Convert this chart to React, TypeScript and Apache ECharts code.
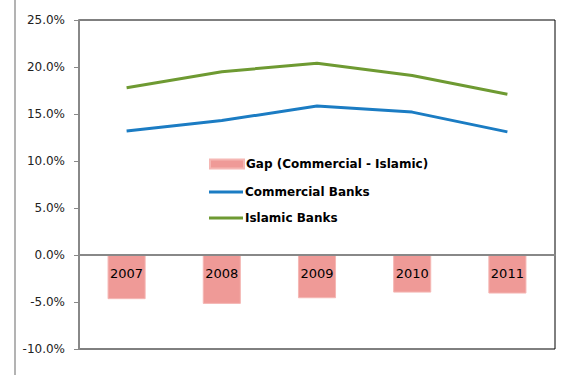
import React, { useEffect, useRef } from "react";
import * as echarts from "echarts";

const categories = ["2007", "2008", "2009", "2010", "2011"];
const gapValues = [-4.7, -5.2, -4.6, -4.0, -4.1];
const commercialValues = [13.2, 14.3, 15.85, 15.2, 13.1];
const islamicValues = [17.8, 19.5, 20.4, 19.1, 17.1];

const GAP = "Gap (Commercial - Islamic)";
const COM = "Commercial Banks";
const ISL = "Islamic Banks";

export default function App() {
  const ref = useRef<HTMLDivElement>(null);
  useEffect(() => {
    const chart = echarts.init(ref.current!, null, { renderer: "svg" });
    const legendText = {
      fontFamily: "DejaVu Sans",
      fontWeight: "bold",
      fontSize: 12,
      color: "#000",
      padding: [0, 0, 0, -3],
    };
    chart.setOption({
      animation: false,
      backgroundColor: "#fff",
      textStyle: { fontFamily: "DejaVu Sans" },
      grid: {
        left: 79,
        right: 8,
        top: 20,
        bottom: 26,
        show: true,
        borderColor: "#000",
        borderWidth: 1,
      },
      legend: [
        {
          orient: "vertical",
          left: 204,
          top: 153,
          itemWidth: 34,
          itemHeight: 9,
          icon: "rect",
          textStyle: legendText,
          data: [GAP],
        },
        {
          orient: "vertical",
          left: 204,
          top: 181,
          itemWidth: 34,
          itemHeight: 3,
          itemGap: 14,
          icon: "rect",
          textStyle: legendText,
          data: [COM, ISL],
        },
      ],
      graphic: [
        {
          type: "line",
          shape: { x1: 15, y1: 0, x2: 15, y2: 375 },
          style: { stroke: "#9a9a9a", lineWidth: 1.5 },
        },
      ],
      xAxis: {
        type: "category",
        data: categories,
        z: 10,
        offset: -94,
        axisLine: { onZero: false, lineStyle: { color: "#888", width: 2 } },
        axisTick: { length: 4, lineStyle: { color: "#888" } },
        axisLabel: {
          color: "#000",
          fontSize: 13,
          margin: 12,
          fontFamily: "DejaVu Sans",
          textBorderWidth: 0,
          textBorderColor: "transparent",
          backgroundColor: "transparent",
        },
      },
      yAxis: {
        type: "value",
        min: -10,
        max: 25,
        interval: 5,
        splitLine: { show: false },
        axisLine: { show: true, lineStyle: { color: "#888", width: 2 } },
        axisTick: { show: true, length: 5, lineStyle: { color: "#888" } },
        axisLabel: {
          color: "#222",
          fontSize: 12,
          margin: 14,
          fontFamily: "DejaVu Sans",
          formatter: (v: number) => v.toFixed(1) + "%",
        },
      },
      series: [
        {
          name: GAP,
          type: "bar",
          data: gapValues,
          barWidth: "40%",
          itemStyle: { color: "#EF9A97", borderColor: "#F5B7B4", borderWidth: 1 },
        },
        {
          name: COM,
          type: "line",
          data: commercialValues,
          symbol: "none",
          lineStyle: { color: "#1B7CC3", width: 3 },
          itemStyle: { color: "#1B7CC3" },
        },
        {
          name: ISL,
          type: "line",
          data: islamicValues,
          symbol: "none",
          lineStyle: { color: "#6E9A32", width: 3 },
          itemStyle: { color: "#6E9A32" },
        },
      ],
    });
    return () => chart.dispose();
  }, []);
  return <div ref={ref} style={{ width: 563, height: 375, position: "absolute", left: 0, top: 0 }} />;
}
